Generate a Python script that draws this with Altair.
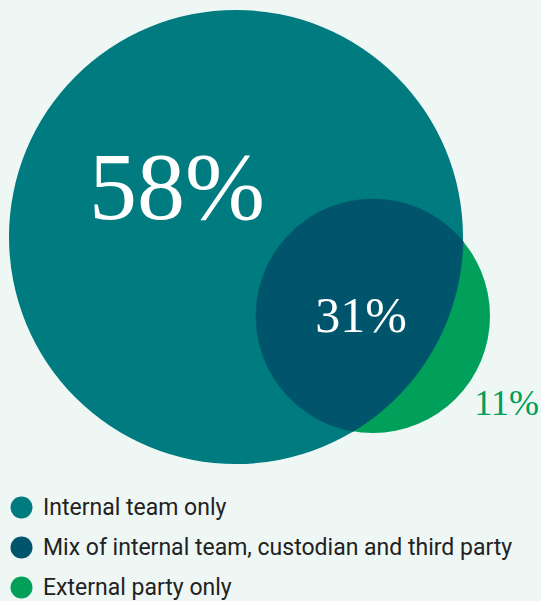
import numpy as np
import pandas as pd
import altair as alt

# ---- data ----
categories = ["Internal team only",
              "Mix of internal team, custodian and third party",
              "External party only"]
values = [58, 31, 11]
labels = ["58%", "31%", "11%"]
colors = ["#007c80", "#00546b", "#009f5a"]
label_colors = ["#ffffff", "#ffffff", "#009f5a"]

# ---- layout geometry (pixels) ----
W, H = 541, 601
BIG = (236.0, 237.0, 227.0)     # cx, cy, r
SMALL = (373.0, 316.0, 117.0)

xs = alt.Scale(domain=[0, W], range=[0, W], nice=False, zero=False)
ys = alt.Scale(domain=[0, H], range=[0, H], nice=False, zero=False)


def lens(big, small, n=120):
    (x1, y1, R), (x2, y2, r) = big, small
    d = np.hypot(x2 - x1, y2 - y1)
    phi_b = np.arctan2(y2 - y1, x2 - x1)
    phi_s = phi_b + np.pi
    a_s = np.arccos((r**2 + d**2 - R**2) / (2 * r * d))
    a_b = np.arccos((R**2 + d**2 - r**2) / (2 * R * d))
    t1 = np.linspace(phi_s - a_s, phi_s + a_s, n)
    t2 = np.linspace(phi_b - a_b, phi_b + a_b, n)
    px = np.concatenate([x2 + r * np.cos(t1), x1 + R * np.cos(t2)])
    py = np.concatenate([y2 + r * np.sin(t1), y1 + R * np.sin(t2)])
    return pd.DataFrame({"x": px, "y": py, "o": np.arange(len(px))})


circles = pd.DataFrame({
    "cat": [categories[0], categories[2]],
    "x": [BIG[0], SMALL[0]],
    "y": [BIG[1], SMALL[1]],
    # Vega circle symbol: diameter = sqrt(size)
    "size": [(2 * BIG[2]) ** 2, (2 * SMALL[2]) ** 2],
})

circle_layer = alt.Chart(circles).mark_circle(opacity=1).encode(
    x=alt.X("x:Q", scale=xs, axis=None),
    y=alt.Y("y:Q", scale=ys, axis=None),
    size=alt.Size("size:Q", scale=None),
    color=alt.Color("cat:N",
                    scale=alt.Scale(domain=categories, range=colors),
                    sort=categories,
                    legend=alt.Legend(
                        title=None, orient="none", legendX=10, legendY=496,
                        symbolType="circle", symbolSize=484, symbolStrokeWidth=0,
                        labelFont="Roboto", labelFontSize=23, labelColor="#222222",
                        labelOffset=10, rowPadding=16, labelLimit=0, padding=0)),
)

lens_layer = alt.Chart(lens(BIG, SMALL)).mark_line(
    filled=True, fill=colors[1], stroke=colors[1], strokeWidth=0.5
).encode(
    x=alt.X("x:Q", scale=xs, axis=None),
    y=alt.Y("y:Q", scale=ys, axis=None),
    order="o:Q",
)

text_pos = [(177, 219, 96, "center"), (361, 332, 50, "center"), (539, 415, 36, "right")]
text_layers = []
for lab, val, tc, (tx, ty, fs, al) in zip(labels, values, label_colors, text_pos):
    df = pd.DataFrame({"label": [lab], "value": [val], "x": [tx], "y": [ty]})
    text_layers.append(
        alt.Chart(df).mark_text(font="Liberation Serif", fontSize=fs, color=tc,
                                align=al, baseline="alphabetic").encode(
            x=alt.X("x:Q", scale=xs, axis=None),
            y=alt.Y("y:Q", scale=ys, axis=None),
            text="label:N",
        )
    )

chart = alt.layer(circle_layer, lens_layer, *text_layers).properties(
    width=W, height=H, background="#eff7f5", padding=0,
    autosize=alt.AutoSizeParams(type="none"),
).configure_view(stroke=None)

chart.save("out.html", embed_options={"renderer": "svg", "actions": False})
